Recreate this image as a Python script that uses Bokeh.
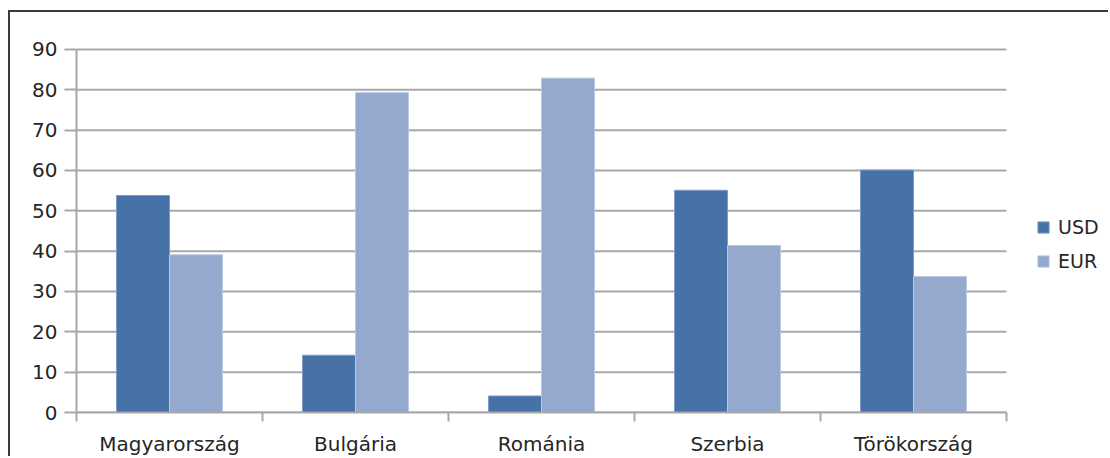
from bokeh.plotting import figure
from bokeh.models import ColumnDataSource, Range1d, FixedTicker, Legend, LegendItem
from bokeh.transform import dodge
from bokeh.embed import file_html
from bokeh.resources import INLINE

categories = ["Magyarország", "Bulgária", "Románia", "Szerbia", "Törökország"]
usd = [53.8, 14.2, 4.1, 55.1, 60.1]
eur = [39.1, 79.3, 82.9, 41.4, 33.7]
y_ticks = [0, 10, 20, 30, 40, 50, 60, 70, 80, 90]

USD_COLOR = "#4672A7"
EUR_COLOR = "#95A9CF"
GRID = "#a8a8a8"
FONT = "DejaVu Sans"
TXT = "#262626"

W, H = 1100, 446
LEFT, TOP, BOTTOM = 66, 35, 45
PLOT_PX = 930      # pixel width of the category area
VALUE_PX = 364     # pixel height of the 0..max value span
n = len(categories)
y_max = y_ticks[-1]
frame_px = W - LEFT
x_end = n * frame_px / PLOT_PX  # extra room on the right holds the legend
y_end = y_max * (H - TOP - BOTTOM) / VALUE_PX  # small headroom so the top grid line isn't clipped

x_center = [i + 0.5 for i in range(n)]
src = ColumnDataSource(dict(x=x_center, usd=usd, eur=eur, cat=categories))
grid_src = ColumnDataSource(dict(y=y_ticks, x0=[0] * len(y_ticks), x1=[n] * len(y_ticks)))

p = figure(width=W, height=H, output_backend="svg", toolbar_location=None,
           x_range=Range1d(0, x_end), y_range=Range1d(0, y_end),
           min_border_left=LEFT, min_border_right=0, min_border_top=TOP, min_border_bottom=BOTTOM)
p.styles = {"border-left": "2px solid #3a3a3a", "border-top": "2px solid #3a3a3a",
            "margin-top": "10px", "margin-left": "8px"}
p.outline_line_color = None
p.background_fill_color = "white"
p.border_fill_color = "white"

# horizontal grid lines limited to the category area
p.segment(x0="x0", x1="x1", y0="y", y1="y", source=grid_src,
          line_color=GRID, line_width=2, level="underlay")

bw = 0.285
r_usd = p.vbar(x=dodge("x", -bw / 2, range=p.x_range), top="usd", width=bw, source=src,
               fill_color=USD_COLOR, line_color="#7f9cc6", line_width=1)
r_eur = p.vbar(x=dodge("x", bw / 2, range=p.x_range), top="eur", width=bw, source=src,
               fill_color=EUR_COLOR, line_color="#b9c7e0", line_width=1)

# y axis
p.yaxis.bounds = (0, y_max)
p.yaxis.ticker = FixedTicker(ticks=y_ticks)
p.yaxis.axis_line_color = GRID
p.yaxis.axis_line_width = 2
p.yaxis.major_tick_line_color = GRID
p.yaxis.major_tick_line_width = 2
p.yaxis.major_tick_out = 12
p.yaxis.major_tick_in = 0
p.yaxis.minor_tick_line_color = None
p.yaxis.major_label_standoff = 7
p.yaxis.major_label_text_font = FONT
p.yaxis.major_label_text_font_size = "20px"
p.yaxis.major_label_text_color = TXT

# x axis: labels at centres, ticks at boundaries
p.xaxis.bounds = (0, n)
p.xaxis.ticker = FixedTicker(ticks=x_center, minor_ticks=list(range(n + 1)))
p.xaxis.major_label_overrides = {x: c for x, c in zip(x_center, categories)}
p.xaxis.axis_line_color = GRID
p.xaxis.axis_line_width = 2
p.xaxis.major_tick_line_color = None
p.xaxis.major_tick_out = 0
p.xaxis.major_tick_in = 0
p.xaxis.minor_tick_line_color = GRID
p.xaxis.minor_tick_line_width = 2
p.xaxis.minor_tick_out = 9
p.xaxis.minor_tick_in = 0
p.xaxis.major_label_standoff = 10
p.xaxis.major_label_text_font = FONT
p.xaxis.major_label_text_font_size = "20px"
p.xaxis.major_label_text_color = TXT

p.xgrid.grid_line_color = None
p.ygrid.grid_line_color = None

legend = Legend(items=[LegendItem(label="USD", renderers=[r_usd]),
                       LegendItem(label="EUR", renderers=[r_eur])],
                location=(960, 140), margin=0, padding=0, spacing=12,
                glyph_width=14, glyph_height=14, label_height=21, label_standoff=8,
                label_text_font=FONT, label_text_font_size="19px", label_text_color=TXT,
                border_line_color=None, background_fill_alpha=0)
p.add_layout(legend, "center")

open("out.html", "w").write(file_html(p, INLINE))
